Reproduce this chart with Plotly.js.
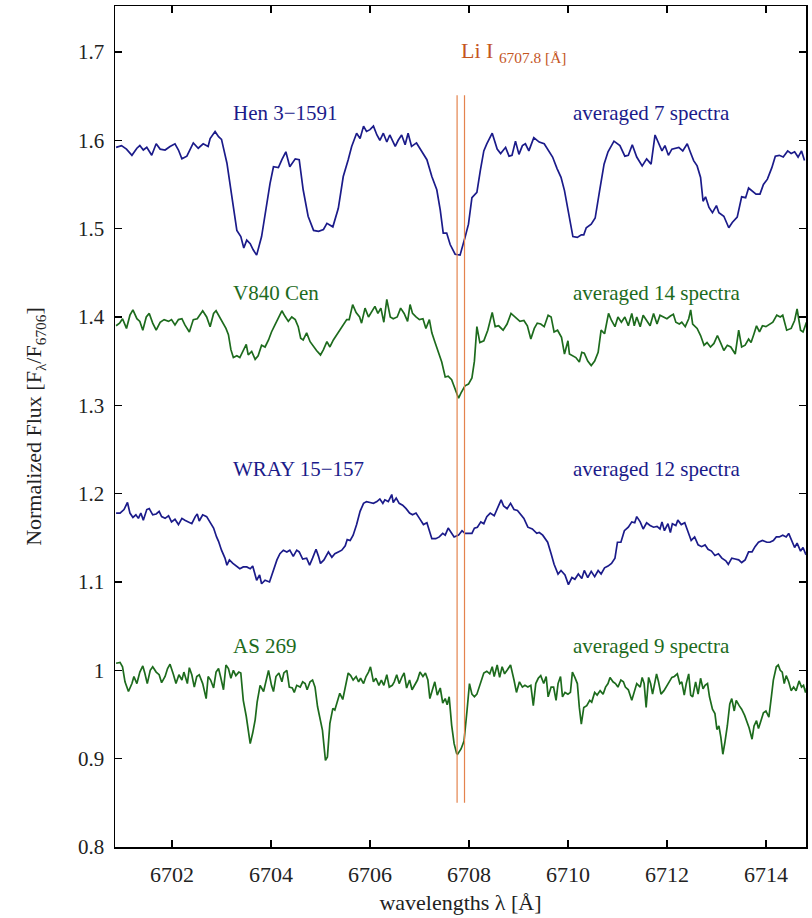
<!DOCTYPE html>
<html>
<head>
<meta charset="utf-8">
<script src="https://cdn.plot.ly/plotly-3.0.1.min.js"></script>
<style>html,body{margin:0;padding:0;background:#fff;}#chart{width:812px;height:918px;}</style>
</head>
<body>
<div id="chart"></div>
<script>
// ---- Data ----
const henX = [6700.87,6700.98,6701.08,6701.19,6701.29,6701.35,6701.42,6701.49,6701.59,6701.68,6701.76,6701.86,6701.96,6702.06,6702.13,6702.20,6702.30,6702.43,6702.53,6702.63,6702.73,6702.77,6702.87,6702.94,6703.00,6703.11,6703.21,6703.31,6703.39,6703.45,6703.51,6703.58,6703.64,6703.71,6703.81,6703.91,6703.98,6704.05,6704.15,6704.22,6704.30,6704.38,6704.49,6704.57,6704.65,6704.75,6704.86,6704.96,6705.06,6705.13,6705.25,6705.36,6705.46,6705.56,6705.63,6705.73,6705.80,6705.87,6705.93,6706.00,6706.07,6706.14,6706.20,6706.27,6706.34,6706.40,6706.51,6706.57,6706.64,6706.71,6706.77,6706.84,6706.94,6707.05,6707.15,6707.25,6707.35,6707.42,6707.48,6707.55,6707.62,6707.72,6707.82,6707.92,6707.99,6708.06,6708.16,6708.23,6708.30,6708.36,6708.47,6708.57,6708.64,6708.74,6708.81,6708.87,6708.94,6709.01,6709.08,6709.14,6709.21,6709.31,6709.42,6709.52,6709.62,6709.69,6709.78,6709.86,6709.93,6709.99,6710.05,6710.10,6710.19,6710.27,6710.32,6710.37,6710.47,6710.55,6710.64,6710.73,6710.81,6710.93,6711.05,6711.15,6711.22,6711.30,6711.39,6711.50,6711.59,6711.68,6711.76,6711.84,6711.90,6711.96,6712.03,6712.10,6712.24,6712.32,6712.41,6712.47,6712.54,6712.61,6712.68,6712.73,6712.78,6712.85,6712.92,6713.00,6713.05,6713.15,6713.25,6713.32,6713.42,6713.51,6713.59,6713.65,6713.72,6713.80,6713.88,6713.95,6714.03,6714.12,6714.19,6714.27,6714.35,6714.44,6714.51,6714.58,6714.65,6714.72,6714.78];
const henY = [1.592,1.594,1.590,1.583,1.591,1.594,1.589,1.592,1.583,1.596,1.590,1.589,1.593,1.596,1.589,1.579,1.582,1.597,1.591,1.596,1.593,1.602,1.610,1.604,1.601,1.574,1.536,1.498,1.491,1.478,1.487,1.483,1.476,1.470,1.491,1.529,1.551,1.570,1.569,1.578,1.587,1.570,1.579,1.578,1.544,1.514,1.498,1.497,1.499,1.506,1.502,1.523,1.559,1.578,1.593,1.608,1.602,1.616,1.610,1.612,1.616,1.606,1.600,1.608,1.598,1.606,1.593,1.600,1.606,1.595,1.608,1.593,1.597,1.587,1.578,1.559,1.544,1.521,1.495,1.495,1.482,1.471,1.470,1.490,1.505,1.535,1.541,1.566,1.588,1.596,1.608,1.590,1.585,1.592,1.582,1.583,1.599,1.584,1.594,1.596,1.588,1.603,1.598,1.596,1.587,1.581,1.568,1.558,1.543,1.524,1.509,1.491,1.490,1.493,1.493,1.501,1.505,1.512,1.543,1.573,1.587,1.599,1.594,1.582,1.583,1.595,1.581,1.571,1.579,1.573,1.606,1.595,1.588,1.594,1.583,1.590,1.592,1.588,1.596,1.587,1.577,1.571,1.558,1.531,1.536,1.524,1.518,1.526,1.518,1.514,1.501,1.507,1.513,1.536,1.535,1.546,1.543,1.539,1.539,1.550,1.556,1.569,1.582,1.583,1.581,1.588,1.585,1.587,1.581,1.588,1.577];

const v840X = [6700.87,6700.94,6701.00,6701.08,6701.15,6701.21,6701.29,6701.35,6701.41,6701.48,6701.54,6701.61,6701.68,6701.76,6701.84,6701.93,6701.99,6702.06,6702.13,6702.20,6702.26,6702.35,6702.43,6702.51,6702.62,6702.70,6702.77,6702.84,6702.89,6702.96,6703.02,6703.09,6703.14,6703.19,6703.24,6703.31,6703.37,6703.44,6703.50,6703.54,6703.61,6703.68,6703.74,6703.81,6703.88,6703.95,6704.01,6704.08,6704.15,6704.22,6704.28,6704.35,6704.42,6704.49,6704.55,6704.60,6704.65,6704.72,6704.79,6704.86,6704.92,6705.00,6705.06,6705.13,6705.19,6705.26,6705.33,6705.40,6705.46,6705.53,6705.58,6705.65,6705.72,6705.79,6705.83,6705.90,6705.97,6706.04,6706.10,6706.16,6706.22,6706.28,6706.34,6706.41,6706.47,6706.55,6706.62,6706.69,6706.76,6706.81,6706.86,6706.93,6707.00,6707.07,6707.13,6707.20,6707.25,6707.31,6707.38,6707.45,6707.52,6707.58,6707.65,6707.72,6707.79,6707.84,6707.92,6707.99,6708.06,6708.11,6708.16,6708.22,6708.30,6708.38,6708.47,6708.53,6708.60,6708.69,6708.77,6708.85,6708.94,6709.03,6709.11,6709.18,6709.25,6709.32,6709.38,6709.45,6709.52,6709.60,6709.66,6709.72,6709.79,6709.87,6709.93,6710.00,6710.03,6710.10,6710.16,6710.23,6710.28,6710.33,6710.40,6710.47,6710.54,6710.61,6710.67,6710.74,6710.82,6710.88,6710.95,6711.01,6711.08,6711.15,6711.22,6711.29,6711.34,6711.39,6711.46,6711.52,6711.59,6711.66,6711.73,6711.80,6711.86,6711.93,6712.00,6712.07,6712.13,6712.18,6712.25,6712.30,6712.37,6712.44,6712.48,6712.52,6712.61,6712.68,6712.75,6712.81,6712.88,6712.95,6713.02,6713.09,6713.15,6713.22,6713.29,6713.38,6713.45,6713.51,6713.58,6713.65,6713.70,6713.76,6713.81,6713.87,6713.93,6714.00,6714.07,6714.14,6714.22,6714.29,6714.34,6714.42,6714.51,6714.58,6714.63,6714.70,6714.75,6714.82];
const v840Y = [1.390,1.393,1.398,1.387,1.402,1.408,1.398,1.395,1.385,1.400,1.404,1.393,1.385,1.394,1.397,1.395,1.397,1.391,1.397,1.398,1.391,1.383,1.397,1.398,1.407,1.400,1.389,1.404,1.407,1.400,1.395,1.387,1.380,1.363,1.354,1.356,1.354,1.363,1.369,1.357,1.361,1.352,1.356,1.368,1.366,1.374,1.383,1.391,1.400,1.407,1.401,1.395,1.400,1.397,1.389,1.376,1.374,1.382,1.372,1.366,1.362,1.357,1.363,1.372,1.366,1.374,1.380,1.385,1.391,1.397,1.397,1.414,1.405,1.400,1.393,1.410,1.400,1.406,1.412,1.404,1.410,1.394,1.420,1.400,1.398,1.400,1.410,1.404,1.395,1.414,1.404,1.400,1.397,1.398,1.387,1.397,1.382,1.372,1.361,1.349,1.332,1.333,1.329,1.319,1.308,1.314,1.322,1.324,1.331,1.350,1.389,1.371,1.373,1.385,1.405,1.389,1.390,1.385,1.392,1.404,1.400,1.395,1.396,1.390,1.375,1.387,1.393,1.392,1.389,1.402,1.400,1.383,1.385,1.377,1.358,1.373,1.358,1.356,1.354,1.349,1.360,1.359,1.350,1.345,1.350,1.360,1.385,1.381,1.404,1.396,1.389,1.400,1.394,1.400,1.390,1.404,1.390,1.400,1.389,1.402,1.396,1.390,1.404,1.392,1.402,1.400,1.398,1.401,1.403,1.394,1.392,1.394,1.389,1.398,1.408,1.392,1.387,1.379,1.368,1.371,1.366,1.370,1.379,1.370,1.362,1.368,1.366,1.358,1.385,1.366,1.368,1.375,1.371,1.381,1.390,1.383,1.390,1.389,1.392,1.394,1.402,1.400,1.402,1.385,1.387,1.396,1.409,1.385,1.383,1.394];

const wrayX = [6700.87,6700.95,6701.03,6701.10,6701.15,6701.21,6701.27,6701.32,6701.37,6701.42,6701.49,6701.54,6701.61,6701.68,6701.74,6701.79,6701.86,6701.93,6701.99,6702.06,6702.13,6702.20,6702.26,6702.33,6702.40,6702.47,6702.51,6702.55,6702.62,6702.70,6702.77,6702.84,6702.90,6702.94,6703.00,6703.07,6703.11,6703.16,6703.23,6703.31,6703.37,6703.44,6703.51,6703.58,6703.63,6703.71,6703.77,6703.81,6703.88,6703.97,6704.05,6704.12,6704.18,6704.25,6704.32,6704.38,6704.45,6704.52,6704.57,6704.64,6704.72,6704.78,6704.84,6704.91,6704.96,6705.00,6705.07,6705.16,6705.23,6705.29,6705.36,6705.43,6705.50,6705.54,6705.60,6705.66,6705.73,6705.80,6705.87,6705.93,6706.00,6706.07,6706.14,6706.20,6706.26,6706.30,6706.37,6706.44,6706.47,6706.53,6706.59,6706.66,6706.73,6706.80,6706.86,6706.93,6707.00,6707.08,6707.15,6707.20,6707.25,6707.33,6707.40,6707.47,6707.52,6707.58,6707.63,6707.70,6707.79,6707.86,6707.92,6707.99,6708.06,6708.11,6708.17,6708.24,6708.30,6708.36,6708.43,6708.51,6708.57,6708.65,6708.70,6708.77,6708.84,6708.91,6708.98,6709.04,6709.11,6709.19,6709.28,6709.37,6709.42,6709.49,6709.59,6709.66,6709.72,6709.80,6709.86,6709.94,6710.01,6710.08,6710.14,6710.21,6710.28,6710.33,6710.40,6710.47,6710.54,6710.61,6710.67,6710.74,6710.81,6710.88,6710.95,6711.00,6711.07,6711.14,6711.22,6711.29,6711.35,6711.39,6711.46,6711.52,6711.59,6711.66,6711.73,6711.80,6711.86,6711.90,6711.95,6712.02,6712.07,6712.11,6712.18,6712.22,6712.29,6712.36,6712.43,6712.49,6712.56,6712.63,6712.70,6712.77,6712.83,6712.90,6712.97,6713.04,6713.11,6713.19,6713.24,6713.31,6713.38,6713.45,6713.51,6713.58,6713.65,6713.72,6713.78,6713.85,6713.93,6714.02,6714.08,6714.15,6714.21,6714.27,6714.34,6714.41,6714.46,6714.53,6714.58,6714.63,6714.70,6714.75,6714.80,6714.85];
const wrayY = [1.178,1.178,1.182,1.190,1.178,1.173,1.176,1.172,1.178,1.170,1.182,1.183,1.176,1.177,1.180,1.174,1.172,1.175,1.168,1.171,1.165,1.172,1.170,1.168,1.166,1.174,1.177,1.169,1.176,1.174,1.168,1.161,1.151,1.146,1.136,1.127,1.119,1.125,1.121,1.118,1.115,1.117,1.117,1.115,1.118,1.102,1.108,1.098,1.102,1.100,1.114,1.125,1.132,1.136,1.134,1.136,1.129,1.136,1.134,1.126,1.127,1.119,1.127,1.137,1.129,1.121,1.125,1.134,1.128,1.132,1.134,1.136,1.141,1.148,1.147,1.153,1.165,1.180,1.189,1.191,1.190,1.189,1.191,1.194,1.189,1.193,1.191,1.199,1.190,1.195,1.189,1.187,1.183,1.178,1.176,1.178,1.172,1.165,1.167,1.157,1.149,1.149,1.151,1.155,1.153,1.161,1.157,1.151,1.153,1.158,1.155,1.155,1.155,1.161,1.162,1.168,1.166,1.174,1.178,1.175,1.182,1.193,1.186,1.183,1.189,1.182,1.181,1.177,1.172,1.162,1.160,1.155,1.156,1.153,1.145,1.132,1.120,1.109,1.113,1.108,1.097,1.105,1.103,1.109,1.104,1.113,1.105,1.112,1.106,1.113,1.109,1.116,1.118,1.121,1.127,1.145,1.145,1.158,1.162,1.168,1.167,1.174,1.168,1.160,1.167,1.164,1.162,1.163,1.160,1.168,1.158,1.166,1.156,1.166,1.164,1.170,1.165,1.167,1.156,1.147,1.151,1.142,1.140,1.142,1.137,1.135,1.130,1.132,1.127,1.124,1.120,1.127,1.126,1.125,1.122,1.125,1.134,1.134,1.140,1.145,1.147,1.145,1.145,1.147,1.151,1.151,1.153,1.151,1.155,1.146,1.139,1.144,1.135,1.139,1.132,1.135];

const as269X = [6700.87,6700.95,6701.00,6701.05,6701.12,6701.19,6701.23,6701.29,6701.35,6701.41,6701.45,6701.50,6701.56,6701.61,6701.68,6701.74,6701.79,6701.86,6701.91,6701.96,6702.03,6702.08,6702.14,6702.20,6702.24,6702.31,6702.35,6702.40,6702.45,6702.50,6702.55,6702.62,6702.69,6702.73,6702.78,6702.84,6702.89,6702.94,6702.98,6703.04,6703.09,6703.14,6703.19,6703.24,6703.29,6703.35,6703.39,6703.44,6703.50,6703.54,6703.58,6703.63,6703.68,6703.72,6703.78,6703.85,6703.90,6703.95,6704.01,6704.05,6704.10,6704.16,6704.22,6704.26,6704.32,6704.37,6704.43,6704.47,6704.52,6704.59,6704.64,6704.69,6704.73,6704.79,6704.84,6704.89,6704.94,6704.99,6705.04,6705.10,6705.14,6705.19,6705.25,6705.29,6705.34,6705.39,6705.45,6705.50,6705.56,6705.61,6705.66,6705.72,6705.77,6705.81,6705.87,6705.92,6705.97,6706.01,6706.07,6706.12,6706.18,6706.23,6706.28,6706.34,6706.39,6706.45,6706.49,6706.54,6706.59,6706.65,6706.69,6706.74,6706.80,6706.85,6706.90,6706.96,6707.01,6707.07,6707.12,6707.17,6707.21,6707.27,6707.31,6707.36,6707.42,6707.47,6707.52,6707.56,6707.60,6707.65,6707.70,6707.75,6707.77,6707.84,6707.90,6707.96,6708.01,6708.06,6708.11,6708.16,6708.23,6708.30,6708.36,6708.42,6708.47,6708.51,6708.57,6708.62,6708.67,6708.72,6708.77,6708.84,6708.91,6708.96,6709.02,6709.08,6709.13,6709.19,6709.25,6709.30,6709.35,6709.40,6709.45,6709.51,6709.56,6709.60,6709.66,6709.71,6709.76,6709.80,6709.85,6709.89,6709.94,6710.00,6710.05,6710.09,6710.14,6710.19,6710.23,6710.27,6710.32,6710.38,6710.44,6710.48,6710.54,6710.59,6710.65,6710.71,6710.76,6710.81,6710.85,6710.91,6710.96,6711.01,6711.07,6711.12,6711.16,6711.22,6711.29,6711.34,6711.39,6711.46,6711.50,6711.54,6711.58,6711.63,6711.67,6711.71,6711.75,6711.79,6711.83,6711.88,6711.94,6712.00,6712.05,6712.10,6712.15,6712.21,6712.26,6712.30,6712.35,6712.39,6712.44,6712.48,6712.52,6712.58,6712.63,6712.68,6712.73,6712.77,6712.82,6712.86,6712.92,6712.97,6713.01,6713.05,6713.09,6713.13,6713.17,6713.22,6713.27,6713.31,6713.36,6713.40,6713.46,6713.51,6713.57,6713.62,6713.66,6713.72,6713.76,6713.81,6713.85,6713.90,6713.95,6714.00,6714.06,6714.11,6714.15,6714.21,6714.25,6714.29,6714.33,6714.37,6714.41,6714.46,6714.51,6714.56,6714.61,6714.67,6714.72,6714.76,6714.80,6714.85];
const as269Y = [1.008,1.009,1.004,0.987,0.976,0.985,0.993,0.985,0.998,1.005,0.997,0.985,1.000,1.004,0.998,0.995,0.986,0.993,1.002,1.007,0.995,0.985,0.995,0.989,0.998,0.985,1.003,0.995,0.981,0.993,0.995,0.985,0.968,0.993,0.989,0.980,0.998,1.002,0.993,0.978,1.006,1.002,0.991,1.000,0.994,0.998,0.997,0.966,0.948,0.932,0.917,0.929,0.944,0.964,0.983,0.976,0.987,1.000,0.983,0.976,0.993,0.997,0.987,0.997,1.000,0.981,0.980,0.975,0.983,0.981,0.987,0.985,0.978,0.987,0.989,0.981,0.959,0.944,0.932,0.898,0.902,0.940,0.957,0.955,0.964,0.974,0.967,0.981,0.997,0.994,0.989,0.993,0.987,0.991,0.985,0.993,0.998,1.004,0.987,0.991,0.983,0.989,0.983,0.995,0.981,0.983,0.987,0.995,0.985,0.993,0.997,0.980,0.989,0.978,0.983,0.989,0.998,0.993,0.997,0.989,0.968,0.978,0.987,0.972,0.980,0.963,0.968,0.961,0.970,0.938,0.917,0.906,0.905,0.911,0.920,0.954,0.985,0.973,0.970,0.973,0.985,0.997,0.999,0.996,1.004,0.993,1.006,0.992,1.004,0.996,1.000,1.006,0.989,0.975,0.987,0.981,0.983,0.981,0.983,0.960,0.985,0.991,0.994,0.985,0.993,0.970,0.981,0.981,0.966,0.985,0.993,0.970,0.975,0.973,0.975,0.998,0.992,0.985,0.958,0.939,0.958,0.960,0.966,0.964,0.975,0.972,0.977,0.973,0.981,0.985,0.992,0.987,0.985,0.981,0.989,0.987,0.981,0.978,0.966,0.977,0.985,0.981,0.992,0.985,0.958,0.992,0.985,0.973,0.985,0.996,0.987,0.973,0.977,0.983,0.987,0.992,0.993,0.996,0.985,0.987,0.972,0.985,0.996,0.972,0.970,0.987,0.973,0.991,0.979,0.983,0.985,0.970,0.956,0.951,0.933,0.937,0.924,0.905,0.918,0.937,0.962,0.968,0.954,0.966,0.960,0.956,0.949,0.941,0.935,0.922,0.937,0.943,0.934,0.943,0.952,0.954,0.947,0.970,0.989,1.004,1.006,1.000,0.998,0.985,0.994,0.987,0.977,0.981,0.977,0.988,0.981,0.983,0.975,0.985];

const starNames  = ["Hen 3\u22121591", "V840 Cen", "WRAY 15\u2212157", "AS 269"];
const starCounts = ["averaged 7 spectra", "averaged 14 spectra", "averaged 12 spectra", "averaged 9 spectra"];
const labelLevels = [1.631, 1.427, 1.228, 1.0275];
const liLines = [6707.76, 6707.91];
const liSpan = [0.85, 1.651];
const xTicks = [6702, 6704, 6706, 6708, 6710, 6712, 6714];
const yTicks = [0.8, 0.9, 1.0, 1.1, 1.2, 1.3, 1.4, 1.5, 1.6, 1.7];
const yTickText = ["0.8", "0.9", "1", "1.1", "1.2", "1.3", "1.4", "1.5", "1.6", "1.7"];

// ---- Styling ----
const BLUE = "#1b1b8a";
const GREEN = "#1d6b1d";
const LI_LINE = "#e4834e";
const LI_TEXT = "#c4561f";
const FONT = "Liberation Serif";

const series = [
  {x: henX, y: henY, c: BLUE},
  {x: v840X, y: v840Y, c: GREEN},
  {x: wrayX, y: wrayY, c: BLUE},
  {x: as269X, y: as269Y, c: GREEN}
];
const traces = series.map(s => ({
  type: "scatter", mode: "lines", x: s.x, y: s.y,
  line: {color: s.c, width: 1.7}, hoverinfo: "skip", showlegend: false
}));

const colors = [BLUE, GREEN, BLUE, GREEN];
const annotations = [];
starNames.forEach((n, i) => {
  annotations.push({xref: "x", yref: "y", x: 6703.19, y: labelLevels[i], text: n,
    showarrow: false, xanchor: "left", yanchor: "middle",
    font: {family: FONT, size: 21, color: colors[i]}});
  annotations.push({xref: "x", yref: "y", x: 6710.06, y: labelLevels[i], text: starCounts[i],
    showarrow: false, xanchor: "left", yanchor: "middle",
    font: {family: FONT, size: 21, color: colors[i]}});
});
annotations.push({xref: "x", yref: "y", x: 6707.80, y: 1.700, text: "Li I <sub>6707.8 [\u00c5]</sub>",
  showarrow: false, xanchor: "left", yanchor: "middle",
  font: {family: FONT, size: 22, color: LI_TEXT}});

const shapes = liLines.map(l => ({type: "line", xref: "x", yref: "y",
  x0: l, x1: l, y0: liSpan[0], y1: liSpan[1], line: {color: LI_LINE, width: 1.2}}));

const axisCommon = {
  showline: true, linecolor: "#000", linewidth: 1.5, mirror: "ticks",
  ticks: "inside", ticklen: 7, tickwidth: 1.2, tickcolor: "#000",
  showgrid: false, zeroline: false
};

const layout = {
  width: 812, height: 918,
  margin: {l: 115, r: 6, t: 6, b: 71},
  paper_bgcolor: "#fff", plot_bgcolor: "#fff",
  showlegend: false,
  xaxis: Object.assign({}, axisCommon, {
    range: [6700.848, 6714.81], tickmode: "array", tickvals: xTicks,
    ticktext: xTicks.map(String), ticklabelstandoff: 7,
    tickfont: {family: FONT, size: 22, color: "#222"},
    title: {text: "wavelengths \u03bb [\u00c5]", font: {family: FONT, size: 22, color: "#222"}, standoff: 8}
  }),
  yaxis: Object.assign({}, axisCommon, {
    range: [0.8, 1.752], tickmode: "array", tickvals: yTicks, ticktext: yTickText,
    ticklabelstandoff: 5,
    tickfont: {family: FONT, size: 21, color: "#222"},
    title: {text: "Normalized Flux [F<sub>\u03bb</sub>/F<sub>6706</sub>]", font: {family: FONT, size: 22, color: "#222"}, standoff: 30}
  }),
  annotations: annotations,
  shapes: shapes
};

Plotly.newPlot("chart", traces, layout, {staticPlot: true, displayModeBar: false});
</script>
</body>
</html>
